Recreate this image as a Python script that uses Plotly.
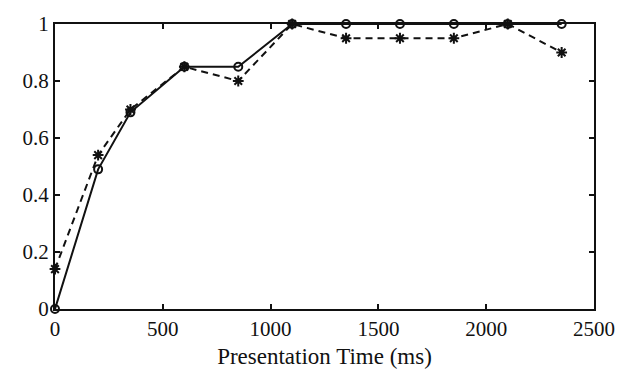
import plotly.graph_objects as go

time_ms = [0, 200, 350, 600, 850, 1100, 1350, 1600, 1850, 2100, 2350]
solid_vals = [0.0, 0.49, 0.69, 0.85, 0.85, 1.0, 1.0, 1.0, 1.0, 1.0, 1.0]
dashed_vals = [0.14, 0.54, 0.70, 0.85, 0.80, 1.0, 0.95, 0.95, 0.95, 1.0, 0.90]
x_ticks = [0, 500, 1000, 1500, 2000, 2500]
y_ticks = [0, 0.2, 0.4, 0.6, 0.8, 1]
y_tick_labels = ["0", "0.2", "0.4", "0.6", "0.8", "1"]

fig = go.Figure()
fig.add_trace(go.Scatter(
    x=time_ms, y=dashed_vals, mode="lines+markers",
    line=dict(color="#111", width=2, dash="7px,5px"),
    marker=dict(symbol="asterisk-open", size=9, line=dict(color="#111", width=2)),
    showlegend=False, cliponaxis=False))
fig.add_trace(go.Scatter(
    x=time_ms, y=solid_vals, mode="lines+markers",
    line=dict(color="#111", width=2),
    marker=dict(symbol="circle-open", size=8, line=dict(color="#111", width=2)),
    showlegend=False, cliponaxis=False))

fam = "Liberation Serif, Times New Roman, serif"
font = dict(family=fam, size=21, color="#111")
fig.update_layout(
    width=631, height=377,
    margin=dict(l=55, r=37, t=22, b=67),
    paper_bgcolor="white", plot_bgcolor="white",
    font=font,
    xaxis=dict(range=[0, 2500], tickvals=x_ticks, ticks="inside", ticklen=5,
               tickcolor="#111", tickwidth=1.5, showline=True, linecolor="#111",
               linewidth=2, mirror="ticks", showgrid=False, zeroline=False,
               tickfont=dict(family=fam, size=21, color="#111"),
               title=dict(text="Presentation Time (ms)",
                          font=dict(family=fam, size=23, color="#111"), standoff=8)),
    yaxis=dict(range=[0, 1], tickvals=y_ticks, ticktext=y_tick_labels,
               ticks="inside", ticklen=5, tickcolor="#111", tickwidth=1.5,
               showline=True, linecolor="#111", linewidth=2, mirror="ticks",
               showgrid=False, zeroline=False,
               tickfont=dict(family=fam, size=21, color="#111")),
)
fig.write_html("out.html")
